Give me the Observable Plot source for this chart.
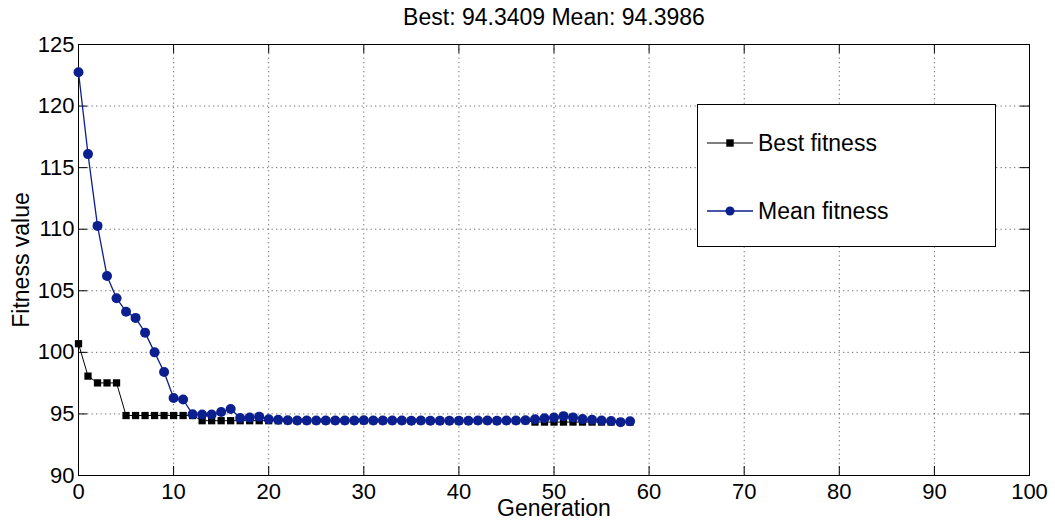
<!DOCTYPE html>
<html><head><meta charset="utf-8">
<script src="https://cdn.jsdelivr.net/npm/d3@7"></script>
<script src="https://cdn.jsdelivr.net/npm/@observablehq/plot@0.6"></script>
<style>
body{margin:0;background:#fff;}
#wrap{position:relative;width:1055px;height:520px;font-family:"Liberation Sans",Arial,sans-serif;color:#000;}
#legend{position:absolute;left:697px;top:104px;width:297px;height:141px;border:1px solid #000;background:#fff;}
.row{position:absolute;left:9px;height:30px;display:flex;align-items:center;font-size:23px;white-space:nowrap;}
.row svg{margin-right:5px;}
</style></head><body><div id="wrap"></div>
<script>
const titleText = "Best: 94.3409 Mean: 94.3986";
const xLabel = "Generation";
const yLabel = "Fitness value";
const generation = [0,1,2,3,4,5,6,7,8,9,10,11,12,13,14,15,16,17,18,19,20,21,22,23,24,25,26,27,28,29,30,31,32,33,34,35,36,37,38,39,40,41,42,43,44,45,46,47,48,49,50,51,52,53,54,55,56,57,58];
const bestFitness = [100.7,98.07,97.52,97.52,97.52,94.87,94.87,94.87,94.87,94.87,94.87,94.87,94.87,
  94.45,94.45,94.45,94.45,94.45,94.45,94.45,94.45,94.45,94.45,94.45,94.45,94.45,94.45,94.45,94.45,94.45,
  94.45,94.45,94.45,94.45,94.45,94.45,94.45,94.45,94.45,94.45,94.45,94.45,94.45,94.45,94.45,94.45,94.45,94.45,
  94.34,94.34,94.34,94.34,94.34,94.34,94.34,94.34,94.34,94.34,94.34];
const meanFitness = [122.75,116.1,110.27,106.2,104.4,103.3,102.8,101.6,100.0,98.4,96.3,96.17,94.97,94.95,94.95,95.15,95.4,
  94.67,94.7,94.78,94.57,94.52,94.48,94.47,94.47,94.46,94.47,94.47,94.46,94.46,94.48,94.47,94.46,94.46,94.46,94.45,
  94.46,94.45,94.45,94.45,94.45,94.45,94.46,94.46,94.45,94.46,94.47,94.48,94.57,94.65,94.7,94.82,94.72,94.58,94.52,94.47,94.42,94.32,94.4];
const xTicks = [0,10,20,30,40,50,60,70,80,90,100];
const yTicks = [90,95,100,105,110,115,120,125];
const seriesNames = ["Best fitness","Mean fitness"];
const seriesColors = ["#000000","#0c1f8f"];
const seriesSymbols = ["square","circle"];

const rows = generation.map((g,i)=>({g, best: bestFitness[i], mean: meanFitness[i]}));
const font = '"Liberation Sans", Arial, sans-serif';

const chart = Plot.plot({
  width: 1055, height: 520,
  marginTop: 44, marginBottom: 45, marginLeft: 78, marginRight: 26,
  style: {fontFamily: font, fontSize: "22px", color: "#000", background: "#fff", overflow: "visible"},
  x: {domain: [0,100]},
  y: {domain: [90,125]},
  marks: [
    Plot.gridX(xTicks.slice(1,-1), {stroke:"#6f6f6f", strokeOpacity:1, strokeDasharray:"1.3,3.2"}),
    Plot.gridY(yTicks.slice(1,-1), {stroke:"#6f6f6f", strokeOpacity:1, strokeDasharray:"1.3,3.2"}),
    Plot.ruleY(yTicks, {x1: 0, x2: 0.95, stroke:"#000"}),
    Plot.ruleY(yTicks, {x1: 99.05, x2: 100, stroke:"#000"}),
    Plot.ruleX(xTicks, {y1: 90, y2: 90.73, stroke:"#000"}),
    Plot.ruleX(xTicks, {y1: 124.27, y2: 125, stroke:"#000"}),
    Plot.frame({stroke:"#000"}),
    Plot.axisX(xTicks, {anchor:"bottom", tickSize:0, tickPadding:8, fontSize:22, label:null}),
    Plot.axisY(yTicks, {anchor:"left", tickSize:0, tickPadding:4, fontSize:22, label:null}),
    Plot.line(rows, {x:"g", y:"best", stroke:seriesColors[0], strokeWidth:1}),
    Plot.dot(rows, {x:"g", y:"best", symbol:seriesSymbols[0], r:4.1, fill:seriesColors[0], stroke:"none"}),
    Plot.line(rows, {x:"g", y:"mean", stroke:seriesColors[1], strokeWidth:1.3}),
    Plot.dot(rows, {x:"g", y:"mean", symbol:seriesSymbols[1], r:5, fill:seriesColors[1], stroke:"none"}),
    Plot.text([titleText], {frameAnchor:"top", dy:-27, textAnchor:"middle", lineAnchor:"middle", fontSize:23}),
    Plot.text([xLabel], {frameAnchor:"bottom", dy:33, textAnchor:"middle", lineAnchor:"middle", fontSize:23}),
    Plot.text([yLabel], {frameAnchor:"left", dx:-57, rotate:-90, textAnchor:"middle", lineAnchor:"middle", fontSize:23})
  ]
});

const wrap = document.getElementById("wrap");
wrap.appendChild(chart);

const legend = document.createElement("div");
legend.id = "legend";
const rowTops = [23, 91];
seriesNames.forEach((name, i) => {
  const row = document.createElement("div");
  row.className = "row";
  row.style.top = rowTops[i] + "px";
  const ns = "http://www.w3.org/2000/svg";
  const svg = document.createElementNS(ns, "svg");
  svg.setAttribute("width", "46"); svg.setAttribute("height", "20");
  const ln = document.createElementNS(ns, "line");
  ln.setAttribute("x1","0"); ln.setAttribute("x2","46"); ln.setAttribute("y1","10"); ln.setAttribute("y2","10");
  ln.setAttribute("stroke", seriesColors[i]); ln.setAttribute("stroke-width", i ? "1.3" : "1");
  svg.appendChild(ln);
  const sym = d3.symbol(seriesSymbols[i] === "square" ? d3.symbolSquare : d3.symbolCircle, seriesSymbols[i] === "square" ? 55 : 65)();
  const p = document.createElementNS(ns, "path");
  p.setAttribute("d", sym); p.setAttribute("transform", "translate(23,10)"); p.setAttribute("fill", seriesColors[i]);
  svg.appendChild(p);
  row.appendChild(svg);
  const span = document.createElement("span");
  span.textContent = name;
  row.appendChild(span);
  legend.appendChild(row);
});
wrap.appendChild(legend);
</script>
</body></html>
